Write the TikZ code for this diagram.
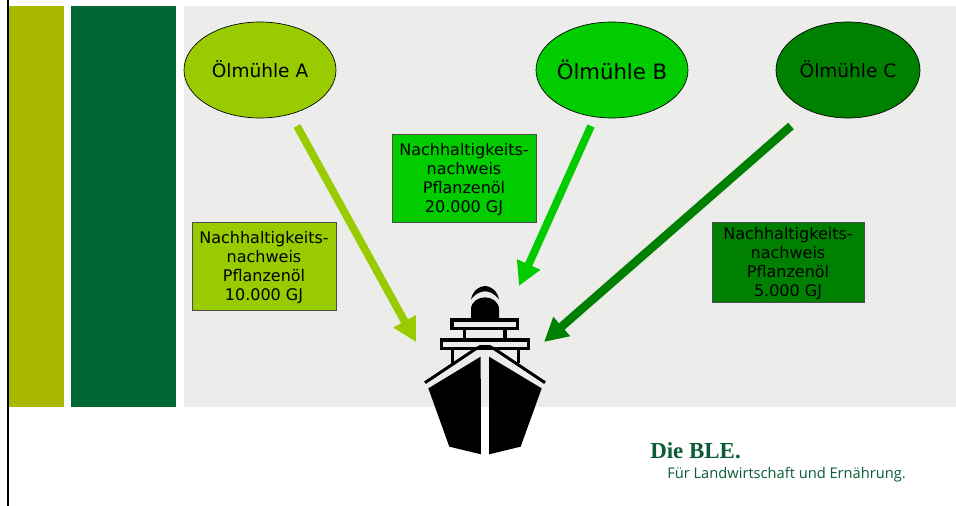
\documentclass[tikz,border=0pt]{standalone}
\usepackage{fontspec}
\setmainfont{DejaVu Sans}
\newfontfamily\logoserif{Liberation Serif}
\newfontfamily\logosans{Open Sans}
\usetikzlibrary{arrows.meta,shapes.geometric}
\definecolor{olivebar}{HTML}{AAB800}
\definecolor{darkbar}{HTML}{006633}
\definecolor{logogreen}{HTML}{0B5C36}
\definecolor{panelgray}{HTML}{ECECEA}
\definecolor{greenA}{HTML}{99CC00}
\definecolor{greenB}{HTML}{00CC00}
\definecolor{greenC}{HTML}{008000}
\tikzset{
  x=0.75pt,y=-0.75pt,
  mill/.style={ellipse,draw=black,line width=0.5pt,inner sep=-12pt,font=\fontsize{13.9}{16}\selectfont},
  certbox/.style={rectangle,draw=black!70,line width=0.6pt,inner sep=0pt,align=center,font=\fontsize{12}{14.2}\selectfont},
  flow/.style={line width=5.8pt,-{Triangle[length=17.7pt,width=18pt]}},
  shipline/.style={draw=black,line width=2.3pt},
}
\newcommand{\certtext}[1]{\rule{0pt}{11.3pt}Nachhaltigkeits-\\nachweis\\Pflanzenöl\\#1}
\begin{document}
\begin{tikzpicture}
\useasboundingbox (0,0) rectangle (956,506);
\fill[white] (0,0) rectangle (956,506);
\fill[panelgray] (184,6) rectangle (956,407);
\fill[olivebar] (9,6) rectangle (64,407);
\fill[darkbar] (71,6) rectangle (176,407);
\draw[black,line width=1.7pt] (8,0) -- (8,506);

\node[mill,fill=greenA,minimum width=114pt,minimum height=72pt] (millA) at (260,70) {\raisebox{1pt}{Ölmühle A}};
\node[mill,fill=greenB,minimum width=114pt,minimum height=72pt,font=\fontsize{15.9}{18}\selectfont] (millB) at (612,70) {\raisebox{1pt}{Ölmühle B}};
\node[mill,fill=greenC,minimum width=108pt,minimum height=72pt] (millC) at (848,70) {\raisebox{1pt}{Ölmühle C}};

\node[certbox,fill=greenA,minimum width=108pt,minimum height=66pt] (certA) at (264,266) {\certtext{10.000 GJ}};
\node[certbox,fill=greenB,minimum width=108pt,minimum height=66pt] (certB) at (464,178) {\certtext{20.000 GJ}};
\node[certbox,fill=greenC,minimum width=114pt,minimum height=60pt] (certC) at (788,262) {\certtext{5.000 GJ}};

\coordinate (startA) at (297,126);
\coordinate (endA) at (416,342);
\coordinate (startB) at (591,126);
\coordinate (endB) at (519,286);
\coordinate (startC) at (791,126);
\coordinate (endC) at (544,342);
\draw[flow,greenA] (startA) -- (endA);
\draw[flow,greenB] (startB) -- (endB);
\draw[flow,greenC,line width=6.4pt] (startC) -- (endC);

% ship
\begin{scope}[shift={(400,270)},x=0.25pt,y=-0.25pt]
\fill[black] (85,355) -- (242,260) -- (243,553) -- (148,530) -- cycle;
\fill[black] (425,355) -- (267,260) -- (267,553) -- (362,530) -- cycle;
\draw[shipline,line width=2.2pt] (75,338) -- (225,238) -- (240,230) -- (270,230) -- (285,238) -- (435,338);
\draw[shipline] (124,210) rectangle (386,236);
\draw[shipline] (124,236) -- (157,236) -- (157,280);
\draw[shipline] (386,236) -- (355,236) -- (355,280);
\draw[shipline] (156,150) rectangle (352,175);
\draw[shipline] (194,175) -- (194,210);
\draw[shipline] (315,175) -- (315,210);
\fill[black] (213,150) -- (213,118) .. controls (213,95) and (235,82) .. (255,82) .. controls (275,82) and (297,95) .. (297,118) -- (297,150) -- cycle;
\fill[black] (213,88) .. controls (218,62) and (238,48) .. (255,48) .. controls (272,48) and (292,62) .. (297,88) .. controls (285,72) and (270,64) .. (255,64) .. controls (240,64) and (225,72) .. (213,88) -- cycle;
\end{scope}

\node[anchor=base west,inner sep=0pt,text=logogreen,font=\logoserif\bfseries\fontsize{17.2}{18}\selectfont] (logoA) at (650,458) {Die BLE.};
\node[anchor=base west,inner sep=0pt,text=logogreen,font=\logosans\fontsize{11}{12}\selectfont] (logoB) at (667,478) {Für Landwirtschaft und Ernährung.};
\end{tikzpicture}
\end{document}
